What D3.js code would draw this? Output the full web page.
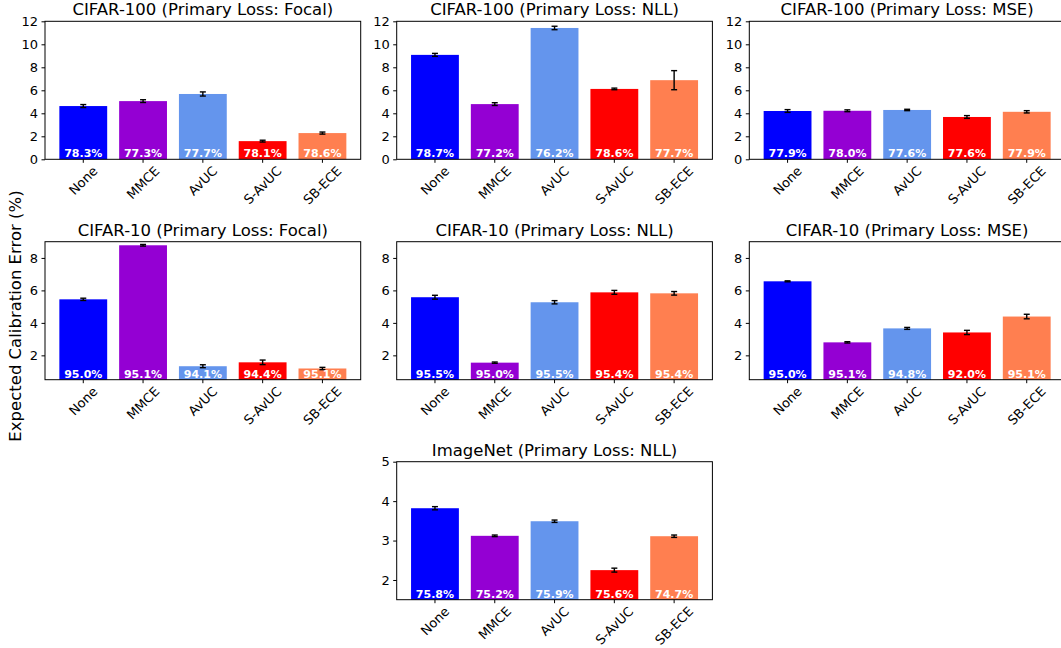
<!DOCTYPE html>
<html>

<head>
  <meta charset="utf-8">
  <style>
    body {
      margin: 0;
      background: white;
    }

    svg {
      display: block;
      font-family: 'DejaVu Sans', sans-serif;
    }

    .title {
      font-size: 16.5px;
      fill: #000;
    }

    .tick-text {
      font-family: 'DejaVu Sans', sans-serif;
      font-size: 13px;
      fill: #000;
    }

    .acc-text {
      font-size: 11px;
      font-weight: bold;
      fill: white;
    }
  </style>
</head>

<body>
  <div id="chart"></div>
  <script src="https://cdn.jsdelivr.net/npm/d3@7"></script>
  <script>
    var methods = ['None', 'MMCE', 'AvUC', 'S-AvUC', 'SB-ECE'];
    var colors = ['#0000ff', '#9400d3', '#6495ed', '#ff0000', '#ff7f50'];

    var titles = [
      'CIFAR-100 (Primary Loss: Focal)',
      'CIFAR-100 (Primary Loss: NLL)',
      'CIFAR-100 (Primary Loss: MSE)',
      'CIFAR-10 (Primary Loss: Focal)',
      'CIFAR-10 (Primary Loss: NLL)',
      'CIFAR-10 (Primary Loss: MSE)',
      'ImageNet (Primary Loss: NLL)'
    ];

    // ECE (%) per panel
    var c100FocalEce = [4.63, 5.06, 5.68, 1.58, 2.28];
    var c100NllEce = [9.08, 4.80, 11.42, 6.12, 6.88];
    var c100MseEce = [4.20, 4.22, 4.29, 3.68, 4.13];
    var c10FocalEce = [5.45, 8.78, 1.33, 1.57, 1.19];
    var c10NllEce = [5.58, 1.55, 5.27, 5.88, 5.82];
    var c10MseEce = [6.56, 2.80, 3.66, 3.41, 4.39];
    var inetNllEce = [3.82, 3.12, 3.49, 2.25, 3.11];

    // std errors
    var c100FocalErr = [0.13, 0.12, 0.18, 0.08, 0.09];
    var c100NllErr = [0.13, 0.12, 0.15, 0.07, 0.83];
    var c100MseErr = [0.12, 0.08, 0.06, 0.12, 0.10];
    var c10FocalErr = [0.07, 0.05, 0.09, 0.14, 0.07];
    var c10NllErr = [0.12, 0.04, 0.10, 0.12, 0.11];
    var c10MseErr = [0.03, 0.04, 0.06, 0.13, 0.14];
    var inetNllErr = [0.04, 0.02, 0.03, 0.05, 0.03];

    // accuracy labels
    var c100FocalAcc = ['78.3%', '77.3%', '77.7%', '78.1%', '78.6%'];
    var c100NllAcc = ['78.7%', '77.2%', '76.2%', '78.6%', '77.7%'];
    var c100MseAcc = ['77.9%', '78.0%', '77.6%', '77.6%', '77.9%'];
    var c10FocalAcc = ['95.0%', '95.1%', '94.1%', '94.4%', '95.1%'];
    var c10NllAcc = ['95.5%', '95.0%', '95.5%', '95.4%', '95.4%'];
    var c10MseAcc = ['95.0%', '95.1%', '94.8%', '92.0%', '95.1%'];
    var inetNllAcc = ['75.8%', '75.2%', '75.9%', '75.6%', '74.7%'];

    // y axis ranges / ticks per row
    var row1Domain = [0, 12];
    var row2Domain = [0.5, 9];
    var row3Domain = [1.5, 5];
    var row1Ticks = [0, 2, 4, 6, 8, 10, 12];
    var row2Ticks = [2, 4, 6, 8];
    var row3Ticks = [2, 3, 4, 5];

    var width = 1061;
    var height = 648;
    var colX = [45, 396.7, 749.3];
    var rowY = [21.3, 241.7, 461.7];
    var axW = 315.7;
    var axH = 138;

    var panels = [
      { t: titles[0], ece: c100FocalEce, err: c100FocalErr, acc: c100FocalAcc, dom: row1Domain, ticks: row1Ticks, col: 0, row: 0 },
      { t: titles[1], ece: c100NllEce, err: c100NllErr, acc: c100NllAcc, dom: row1Domain, ticks: row1Ticks, col: 1, row: 0 },
      { t: titles[2], ece: c100MseEce, err: c100MseErr, acc: c100MseAcc, dom: row1Domain, ticks: row1Ticks, col: 2, row: 0 },
      { t: titles[3], ece: c10FocalEce, err: c10FocalErr, acc: c10FocalAcc, dom: row2Domain, ticks: row2Ticks, col: 0, row: 1 },
      { t: titles[4], ece: c10NllEce, err: c10NllErr, acc: c10NllAcc, dom: row2Domain, ticks: row2Ticks, col: 1, row: 1 },
      { t: titles[5], ece: c10MseEce, err: c10MseErr, acc: c10MseAcc, dom: row2Domain, ticks: row2Ticks, col: 2, row: 1 },
      { t: titles[6], ece: inetNllEce, err: inetNllErr, acc: inetNllAcc, dom: row3Domain, ticks: row3Ticks, col: 1, row: 2 }
    ];

    var svg = d3.select('#chart').append('svg')
      .attr('width', width)
      .attr('height', height);

    function drawPanel(p) {
      var left = colX[p.col];
      var top = rowY[p.row];
      var g = svg.append('g').attr('transform', 'translate(' + left + ',' + top + ')');

      var x = d3.scaleBand()
        .domain(methods)
        .range([0, axW])
        .paddingInner(0.2)
        .paddingOuter(0.24);
      var y = d3.scaleLinear().domain(p.dom).range([axH, 0]);

      var rows = methods.map(function (m, i) {
        return { m: m, v: p.ece[i], e: p.err[i], a: p.acc[i], c: colors[i] };
      });

      // bars (clipped at axis bottom)
      g.selectAll('.bar')
        .data(rows)
        .enter()
        .append('rect')
        .attr('class', 'bar')
        .attr('x', function (d) { return x(d.m); })
        .attr('width', x.bandwidth())
        .attr('y', function (d) { return y(d.v); })
        .attr('height', function (d) { return axH - y(d.v); })
        .style('fill', function (d) { return d.c; });

      // error bars
      var eb = g.selectAll('.err')
        .data(rows)
        .enter()
        .append('g')
        .attr('class', 'err')
        .attr('transform', function (d) { return 'translate(' + (x(d.m) + x.bandwidth() / 2) + ',0)'; });
      eb.append('line')
        .attr('y1', function (d) { return y(d.v - d.e); })
        .attr('y2', function (d) { return y(d.v + d.e); })
        .style('stroke', 'black').style('stroke-width', 1.4);
      eb.append('line')
        .attr('x1', -3).attr('x2', 3)
        .attr('y1', function (d) { return y(d.v - d.e); })
        .attr('y2', function (d) { return y(d.v - d.e); })
        .style('stroke', 'black').style('stroke-width', 1.4);
      eb.append('line')
        .attr('x1', -3).attr('x2', 3)
        .attr('y1', function (d) { return y(d.v + d.e); })
        .attr('y2', function (d) { return y(d.v + d.e); })
        .style('stroke', 'black').style('stroke-width', 1.4);

      // accuracy labels
      g.selectAll('.acc')
        .data(rows)
        .enter()
        .append('text')
        .attr('class', 'acc-text')
        .attr('x', function (d) { return x(d.m) + x.bandwidth() / 2; })
        .attr('y', axH - 2)
        .attr('text-anchor', 'middle')
        .text(function (d) { return d.a; });

      // frame
      g.append('rect')
        .attr('width', axW)
        .attr('height', axH)
        .style('fill', 'none')
        .style('stroke', 'black')
        .style('stroke-width', 1);

      // y axis
      var yAxis = g.append('g')
        .call(d3.axisLeft(y).tickValues(p.ticks).tickSize(3.5).tickPadding(3.5).tickFormat(d3.format('d')));
      yAxis.select('.domain').remove();
      yAxis.selectAll('text').attr('class', 'tick-text');
      yAxis.selectAll('line').style('stroke', 'black');

      // x axis
      var xAxis = g.append('g')
        .attr('transform', 'translate(0,' + axH + ')')
        .call(d3.axisBottom(x).tickSize(3.5).tickFormat(''));
      xAxis.select('.domain').remove();
      xAxis.selectAll('line').style('stroke', 'black');

      // rotated x labels, rotated box centred on the tick
      methods.forEach(function (m) {
        var cx = x(m) + x.bandwidth() / 2;
        var t = g.append('text')
          .attr('class', 'tick-text')
          .attr('text-anchor', 'middle')
          .attr('dominant-baseline', 'central')
          .text(m);
        var len = t.node().getComputedTextLength();
        var h = 9.5;
        var cy = axH + 6 + (len + h) * 0.7071 / 2;
        t.attr('transform', 'translate(' + cx + ',' + cy + ') rotate(-45)');
      });

      // title
      g.append('text')
        .attr('class', 'title')
        .attr('x', axW / 2)
        .attr('y', -6)
        .attr('text-anchor', 'middle')
        .text(p.t);
    }

    panels.forEach(drawPanel);

    svg.append('text')
      .attr('transform', 'translate(21,316) rotate(-90)')
      .attr('text-anchor', 'middle')
      .style('font-size', '16.5px')
      .text('Expected Calibration Error (%)');
  </script>
</body>

</html>
